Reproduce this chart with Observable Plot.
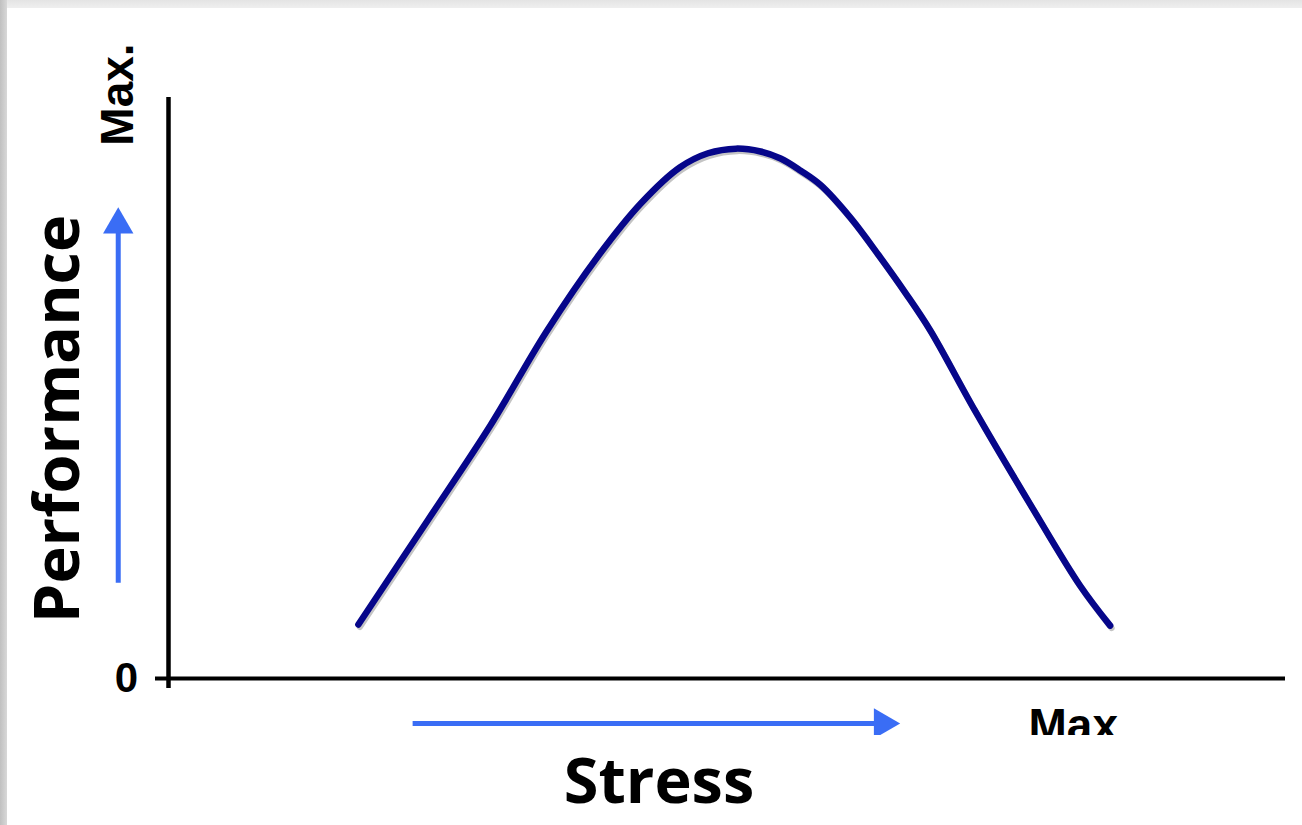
<!DOCTYPE html>
<html><head><meta charset="utf-8">
<script src="https://cdn.jsdelivr.net/npm/d3@7"></script>
<script src="https://cdn.jsdelivr.net/npm/@observablehq/plot@0.6"></script>
<style>
html,body{margin:0;padding:0;background:#fff;width:1302px;height:825px;overflow:hidden;position:relative}
#topbar{position:absolute;left:0;top:0;width:1302px;height:8px;background:linear-gradient(#e4e4e4,#efefef)}
#leftbar{position:absolute;left:0;top:0;width:7px;height:825px;background:linear-gradient(to right,#c0c0c0,#d8d8d8)}
#chart{position:absolute;left:0;top:0}
#xtitle{position:absolute;left:0;top:747px;width:1318px;text-align:center;font:700 63px/1 "Open Sans",sans-serif;color:#000}
</style></head>
<body>
<div id="topbar"></div><div id="leftbar"></div>
<div id="chart"></div>
<div id="xtitle">Stress</div>
<script>
// Curve: Stress (x, 0..100 of axis) vs Performance (y, 0..100 of axis)
const stress      = [17.0, 23.2, 28.8, 33.8, 38.5, 42.3, 45.8, 48.3, 50.8, 53.0, 54.8, 56.6, 58.4, 61.1, 63.6, 66.0, 68.2, 72.2, 77.2, 81.6, 84.3];
const performance = [9.3, 27.2, 43.5, 59.6, 72.8, 81.8, 88.0, 90.4, 91.2, 90.7, 89.5, 87.4, 84.9, 79.2, 72.8, 66.3, 59.9, 46.1, 29.8, 16.0, 9.1];
// axis end labels
const yEndLabels = ["0", "Max."];
const yEndValues = [0, 100];
const xEndLabel = "Max";
const xEndValue = 81;
const yTitle = "Performance";
// direction arrows (data units)
const vArrowX = -4.5, vArrowFrom = 16.4, vArrowTo = 81.1;
const hArrowY = -7.75, hArrowFrom = 21.9, hArrowTo = 65.5;

const curveData = stress.map((s, i) => ({stress: s, performance: performance[i]}));
const arrowBlue = "#3a6df5";

const chart = Plot.plot({
  width: 1302, height: 735,
  marginLeft: 168, marginRight: 17, marginTop: 97, marginBottom: 57,
  x: {domain: [0, 100], axis: null},
  y: {domain: [0, 100], axis: null},
  style: {background: "transparent"},
  marks: [
    Plot.ruleX([0], {y1: 100, y2: 0, stroke: "#000", strokeWidth: 4.5, insetBottom: -10}),
    Plot.ruleY([0], {x1: 0, x2: 100, stroke: "#000", strokeWidth: 4, insetLeft: -13}),
    Plot.line(curveData, {x: "stress", y: "performance", curve: "catmull-rom", stroke: "#c4c4c4", strokeWidth: 6, dx: 1.5, dy: 2.5}),
    Plot.line(curveData, {x: "stress", y: "performance", curve: "catmull-rom", stroke: "#06068a", strokeWidth: 6.5}),
    // vertical arrow
    Plot.ruleX([vArrowX], {y1: vArrowTo, y2: vArrowFrom, stroke: arrowBlue, strokeWidth: 5, insetTop: 15}),
    Plot.dot([{x: vArrowX, y: vArrowTo}], {x: "x", y: "y", symbol: "triangle2", r: 14.5, fill: arrowBlue, stroke: "none", dy: 17.5}),
    // horizontal arrow
    Plot.ruleY([hArrowY], {x1: hArrowFrom, x2: hArrowTo, stroke: arrowBlue, strokeWidth: 5, insetRight: 15}),
    Plot.dot([{x: hArrowTo, y: hArrowY}], {x: "x", y: "y", symbol: "triangle2", r: 14.5, fill: arrowBlue, stroke: "none", rotate: 90, dx: -17.5}),
    // labels
    Plot.text([yEndLabels[0]], {x: 0, y: yEndValues[0], text: d => d, dx: -42, dy: 0, fontSize: 42, fontWeight: "bold", fontFamily: "Liberation Sans, Arial, sans-serif", fill: "#000"}),
    Plot.text([yEndLabels[1]], {x: 0, y: yEndValues[1], text: d => d, rotate: -90, dx: -50, dy: -3, fontSize: 46, fontWeight: "bold", fontFamily: "Liberation Sans, Arial, sans-serif", fill: "#000"}),
    Plot.text([xEndLabel], {x: xEndValue, y: 0, text: d => d, lineAnchor: "top", dy: 30, fontSize: 46, fontWeight: "bold", fontFamily: "Liberation Sans, Arial, sans-serif", fill: "#000"}),
    Plot.text([yTitle], {frameAnchor: "left", textAnchor: "middle", text: d => d, rotate: -90, dx: -110, dy: 31, fontSize: 63, fontWeight: "bold", fontFamily: "Open Sans, sans-serif", fill: "#000"})
  ]
});
document.getElementById("chart").appendChild(chart);
</script>
</body></html>
